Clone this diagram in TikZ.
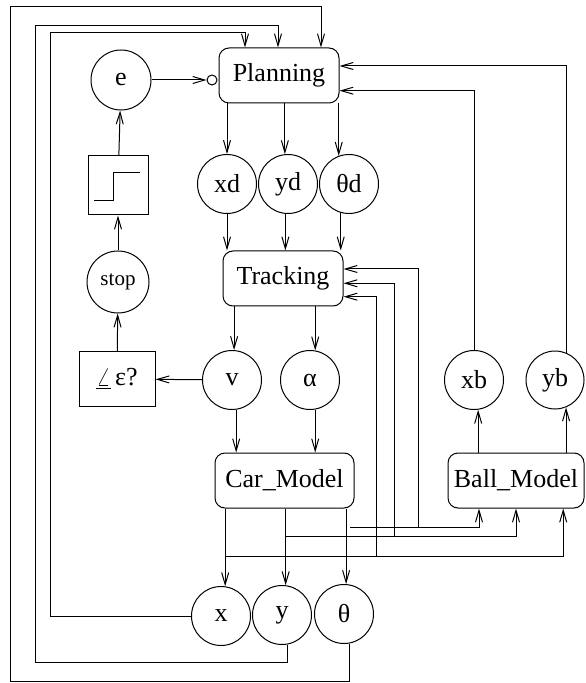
\documentclass[tikz,border=0pt]{standalone}
\usepackage{fontspec}
\setmainfont{Liberation Serif}
\usetikzlibrary{positioning,arrows.meta}
\tikzset{
  every node/.style={font=\fontsize{13}{15}\selectfont},
  block/.style={
    rectangle, rounded corners=5pt, draw,
    minimum width=60pt, minimum height=27.5pt,
    inner sep=0pt
  },
  signal/.style={
    circle, draw, minimum size=29.5pt, inner sep=0pt
  },
  plainbox/.style={
    rectangle, draw, inner sep=0pt
  },
  arrow/.style={
    -{Straight Barb[length=6pt,width=3.5pt]},
    line width=0.5pt
  },
}

\begin{document}
\begin{tikzpicture}[x=0.5pt,y=-0.5pt,line width=0.5pt]
  \useasboundingbox (0,0) rectangle (585,683);
  % decision chain on the left
  \node[signal, minimum size=30pt] (e) at (121,80) {e};
  \node[circle, draw, minimum size=5pt, inner sep=0pt] (inv) at (212,80) {};
  \node[plainbox, minimum width=30pt, minimum height=29.5pt] (stepfn) at (118,185.5) {};
  \draw (94,201) -| (113,173) -- (140,173);
  \node[signal, minimum size=31pt, font=\fontsize{10.5}{12}\selectfont] (stop) at (118,282) {stop};
  \node[plainbox, minimum width=38pt, minimum height=27.5pt] (cmp) at (117,379) {\underline{$\angle$}\,ε?};
  % blocks
  \node[block] (plan) at (279,75.5) {Planning};
  \node[block] (track) at (283,278.5) {Tracking};
  \node[block, minimum width=69.5pt] (car) at (284.5,480.5) {Car\_Model};
  \node[block, minimum width=68pt] (ball) at (516,480.5) {Ball\_Model};
  % signals
  \node[signal] (xd) at (227,184) {xd};
  \node[signal] (yd) at (288,184) {yd};
  \node[signal] (thd) at (349,184) {θd};
  \node[signal] (v) at (232,380) {v};
  \node[signal] (al) at (310,380) {α};
  \node[signal] (xb) at (474,380) {xb};
  \node[signal, minimum size=29pt] (yb) at (555,380) {yb};
  \node[signal] (xo) at (221,616) {x};
  \node[signal] (yo) at (282,615) {y};
  \node[signal] (tho) at (344,614) {θ};
  % left chain
  \draw[arrow] (e) -- (inv);
  \draw[arrow] (stepfn) -- (e);
  \draw[arrow] (stop) -- (stepfn);
  \draw[arrow] (cmp) -- (stop);
  \draw[arrow] (v) -- (cmp);
  % planning -> desired values -> tracking
  \draw[arrow] (xd.north |- plan.south) -- (xd.north);
  \draw[arrow] (yd.96 |- plan.south) -- (yd.96);
  \draw[arrow] (thd.110 |- plan.south) -- (thd.110);
  \draw[arrow] (xd.south) -- (xd.south |- track.north);
  \draw[arrow] (yd.265) -- (yd.265 |- track.north);
  \draw[arrow] (thd.254) -- (thd.254 |- track.north);
  % tracking -> inputs -> car model
  \draw[arrow] (v.86 |- track.south) -- (v.86);
  \draw[arrow] (al.80 |- track.south) -- (al.80);
  \draw[arrow] (v.278) -- (v.278 |- car.north);
  \draw[arrow] (al.280) -- (al.280 |- car.north);
  \draw[arrow] (xo.82 |- car.south) -- (xo.82);
  \draw[arrow] (yo.83 |- car.south) -- (yo.83);
  \draw[arrow] (tho.86 |- car.south) -- (tho.86);
  % car state -> ball model and tracking
  \coordinate (thtap) at (350,527);
  \coordinate (thjoin) at (418,527);
  \coordinate (yjoin) at (394,536);
  \coordinate (xjoin) at (376,556);
  \draw[arrow] (thtap) -| ([xshift=-18.5pt]ball.south);
  \draw[arrow] (thjoin) |- ([yshift=4.75pt]track.east);
  \draw[arrow] (yo.83 |- yjoin) -| (ball.south);
  \draw[arrow] (yjoin) |- ([yshift=-2.4pt]track.east);
  \draw[arrow] (xo.82 |- xjoin) -| ([xshift=23.6pt]ball.south);
  \draw[arrow] (xjoin) |- ([yshift=-9.1pt]track.east);
  % ball model -> ball position -> planning
  \draw[arrow] (xb.278 |- ball.north) -- (xb.278);
  \draw[arrow] (yb.292 |- ball.north) -- (yb.292);
  \draw[arrow] (xb.north) |- ([yshift=-7.6pt]plan.east);
  \draw[arrow] (yb.68) |- ([yshift=4.75pt]plan.east);
  % feedback loops round the outside
  \draw[arrow] (xo.west) -| (50,33) -| ([xshift=-17pt]plan.north);
  \draw[arrow] (yo.280) |- (35,662) -- (35,26) -| ([xshift=-0.5pt]plan.north);
  \draw[arrow] (tho.280) |- (10,681) -- (10,7) -| ([xshift=21pt]plan.north);
\end{tikzpicture}
\end{document}
